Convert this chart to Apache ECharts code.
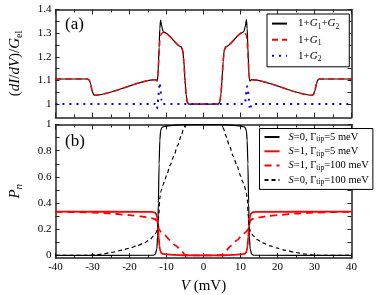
<!DOCTYPE html>
<html><head><meta charset="utf-8">
<script src="https://cdn.jsdelivr.net/npm/echarts@6/dist/echarts.min.js"></script>
<style>html,body{margin:0;padding:0;background:#fff}#c{width:382px;height:295px}</style>
</head><body><div id="c"></div>
<script>
// ---- Panel (a) data ----
const V_G12 = [-40,-31.3,-30.9,-30.5,-30.1,-29.7,-29.4,-13.0,-12.5,-12.3,-12.0,-11.8,-11.6,-11.3,-10.9,-10.6,-6.0,-5.6,-5.3,-5.0,-4.7,-4.4,-4.0,4.0,4.4,4.7,5.0,5.3,5.6,6.0,10.6,10.9,11.3,11.6,11.8,12.0,12.3,12.5,13.0,29.4,29.7,30.1,30.5,30.9,31.3,40];
const G12 = [1.106,1.106,1.102,1.085,1.055,1.040,1.037,1.103,1.097,1.125,1.24,1.32,1.355,1.33,1.306,1.303,1.242,1.226,1.18,1.10,1.04,1.008,1.0,1.0,1.008,1.04,1.10,1.18,1.226,1.242,1.303,1.306,1.33,1.357,1.32,1.24,1.125,1.097,1.103,1.037,1.040,1.055,1.085,1.102,1.106,1.106];
const G1 = [1.106,1.106,1.102,1.085,1.055,1.040,1.037,1.103,1.100,1.12,1.21,1.27,1.29,1.298,1.304,1.303,1.242,1.226,1.18,1.10,1.04,1.008,1.0,1.0,1.008,1.04,1.10,1.18,1.226,1.242,1.303,1.304,1.298,1.29,1.27,1.21,1.12,1.100,1.103,1.037,1.040,1.055,1.085,1.102,1.106,1.106];
const V_G2 = [-40,-13.0,-12.8,-12.6,-12.4,-12.2,-12.0,-11.8,-11.6,-11.4,-11.2,11.2,11.4,11.6,11.8,12.0,12.2,12.4,12.6,12.8,13.0,40];
const G2 = [1,1,0.995,0.98,0.995,1.03,1.07,1.09,1.06,1.02,1.0,1.0,1.02,1.05,1.075,1.07,1.03,0.99,0.975,0.99,1.0,1];
// ---- Panel (b) data ----
const V_S0_5 = [-40,-13.6,-13.0,-12.6,-12.4,-12.2,-12.0,-11.8,-11.6,-11.3,-11.0,-10.0,-8.0,-5.0,0,5.0,8.0,10.0,11.0,11.3,11.6,11.8,12.0,12.2,12.4,12.6,13.0,13.6,40];
const P_S0_5 = [0,0.001,0.01,0.05,0.15,0.4,0.7,0.88,0.95,0.975,0.982,0.988,0.994,0.999,1.0,0.999,0.994,0.988,0.982,0.975,0.95,0.88,0.7,0.4,0.15,0.05,0.01,0.001,0];
const V_S1_5 = [-40,-14.0,-13.2,-12.8,-12.5,-12.3,-12.1,-11.9,-11.7,-11.4,-11.0,-10.0,-8.0,-5.0,0,5.0,8.0,10.0,11.0,11.4,11.7,11.9,12.1,12.3,12.5,12.8,13.2,14.0,40];
const P_S1_5 = [0.334,0.333,0.328,0.318,0.29,0.22,0.14,0.07,0.035,0.018,0.012,0.008,0.004,0.001,0,0.001,0.004,0.008,0.012,0.018,0.035,0.07,0.14,0.22,0.29,0.318,0.328,0.333,0.334];
const V_S1_100 = [-40,-35,-30,-25,-20,-17,-15,-13.8,-13.0,-12.6,-12.3,-12.0,-11.5,-10.5,-9.0,-7.5,-6.0,-5.0,-4.5,0,4.5,5.0,6.0,7.5,9.0,10.5,11.5,12.0,12.3,12.6,13.0,13.8,15,17,20,25,30,35,40];
const P_S1_100 = [0.333,0.331,0.327,0.32,0.308,0.298,0.29,0.283,0.276,0.262,0.23,0.195,0.18,0.155,0.115,0.075,0.035,0.005,0,0,0,0.005,0.035,0.075,0.115,0.155,0.18,0.195,0.23,0.262,0.276,0.283,0.29,0.298,0.308,0.32,0.327,0.331,0.333];
const V_S0_100 = [-40,-31,-29,-27,-25,-22,-20,-18,-16,-14.5,-13.5,-12.8,-12.4,-12.1,-11.8,-11.5,-11.0,-10.5,-10.0,-9.0,-8.0,-7.0,-6.0,-5.4,-4.8,0,4.8,5.4,6.0,7.0,8.0,9.0,10.0,10.5,11.0,11.5,11.8,12.1,12.4,12.8,13.5,14.5,16,18,20,22,25,27,29,31,40];
const P_S0_100 = [0,0,0.004,0.012,0.022,0.04,0.055,0.073,0.095,0.12,0.148,0.175,0.205,0.3,0.44,0.49,0.535,0.57,0.61,0.69,0.76,0.84,0.915,0.97,1.0,1.0,1.0,0.97,0.915,0.84,0.76,0.69,0.61,0.57,0.535,0.49,0.44,0.3,0.205,0.175,0.148,0.12,0.095,0.073,0.055,0.04,0.022,0.012,0.004,0,0];
// ---- ticks ----
const xTicks = [-40,-30,-20,-10,0,10,20,30,40];
const yLabelsA = [1,1.1,1.2,1.3,1.4];
const yTicksA = [1,1.05,1.1,1.15,1.2,1.25,1.3,1.35,1.4];
const yLabelsB = [0,0.2,0.4,0.6,0.8,1];
const yTicksB = [0,0.1,0.2,0.3,0.4,0.5,0.6,0.7,0.8,0.9,1];

const FF = '"Liberation Serif", "DejaVu Serif", serif';
const zip = (xs, ys) => xs.map((x, i) => [x, ys[i]]);
const AX = { onZero: false, lineStyle: { color: '#222', width: 1.5 } };
function xAx(grid, pos, showLabel, name) {
  return {
    type: 'value', gridIndex: grid, position: pos, min: -40, max: 40, interval: 10,
    axisLine: AX, splitLine: { show: false },
    axisTick: { inside: true, length: 5, lineStyle: { color: '#222' } },
    minorTick: { show: true, splitNumber: 2, length: 3, lineStyle: { color: '#222' } },
    axisLabel: { show: showLabel, color: '#000', fontFamily: FF, fontSize: 11, margin: 4 },
    name: name || '', nameLocation: 'middle', nameGap: 21,
    nameTextStyle: { fontFamily: FF, fontSize: 15, color: '#000', rich: { i: { fontFamily: FF, fontSize: 15, fontStyle: 'italic', color: '#000' } } }
  };
}
function yAx(grid, pos, showLabel, min, max, labels, ticks, name, nameRich) {
  return {
    type: 'value', gridIndex: grid, position: pos, min: min, max: max,
    axisLine: AX, splitLine: { show: false },
    axisTick: { inside: true, length: 4, customValues: ticks, lineStyle: { color: '#222' } },
    axisLabel: { show: showLabel, customValues: labels, color: '#000', fontFamily: FF, fontSize: 11, margin: 4, formatter: v => String(+v.toFixed(2)) },
    name: name || '', nameLocation: 'middle', nameGap: 31, nameRotate: 90,
    nameTextStyle: { fontFamily: FF, fontSize: 15, color: '#000', rich: nameRich }
  };
}
const richName = {
  n: { fontFamily: FF, fontSize: 15, color: '#000', lineHeight: 18 },
  i: { fontFamily: FF, fontSize: 15, fontStyle: 'italic', color: '#000', lineHeight: 18 },
  s: { fontFamily: FF, fontSize: 10, color: '#000', verticalAlign: 'bottom', lineHeight: 12 },
  si: { fontFamily: FF, fontSize: 11, fontStyle: 'italic', color: '#000', verticalAlign: 'bottom', lineHeight: 12 }
};
const legRich = {
  i: { fontFamily: FF, fontSize: 11, fontStyle: 'italic', color: '#000', lineHeight: 14 },
  s: { fontFamily: FF, fontSize: 7.5, color: '#000', verticalAlign: 'bottom', lineHeight: 9 },
  n: { fontFamily: FF, fontSize: 11, color: '#000', lineHeight: 14 }
};
const legRichB = {
  i: { fontFamily: FF, fontSize: 10.5, fontStyle: 'italic', color: '#000', lineHeight: 13 },
  s: { fontFamily: FF, fontSize: 7.5, color: '#000', verticalAlign: 'bottom', lineHeight: 8 },
  n: { fontFamily: FF, fontSize: 10.5, color: '#000', lineHeight: 13 }
};
const legNames = {
  'G12': '{n|1+}{i|G}{s|1}{n|+}{i|G}{s|2}',
  'G1': '{n|1+}{i|G}{s|1}',
  'G2': '{n|1+}{i|G}{s|2}',
  'S0_5': '{i|S}{n|=0, Γ}{s|tip}{n|=5 meV}',
  'S1_5': '{i|S}{n|=1, Γ}{s|tip}{n|=5 meV}',
  'S1_100': '{i|S}{n|=1, Γ}{s|tip}{n|=100 meV}',
  'S0_100': '{i|S}{n|=0, Γ}{s|tip}{n|=100 meV}'
};
function ser(name, xa, ya, xi, yi, color, width, type) {
  return { name: name, type: 'line', xAxisIndex: xi, yAxisIndex: yi, data: zip(xa, ya), symbol: 'none',
    smooth: 0.25, smoothMonotone: 'x', silent: true, animation: false,
    lineStyle: { color: color, width: width, type: type }, itemStyle: { color: color } };
}
const chart = echarts.init(document.getElementById('c'), null, { renderer: 'canvas' });
chart.setOption({
  animation: false,
  grid: [
    { left: 49.5, top: 9.5, width: 302, height: 108 },
    { left: 49.5, top: 124.5, width: 302, height: 140 }
  ],
  xAxis: [xAx(0, 'bottom', false), xAx(0, 'top', false), xAx(1, 'bottom', true, '{i|V} (mV)'), xAx(1, 'top', false)],
  yAxis: [
    yAx(0, 'left', true, 0.943, 1.4, yLabelsA, yTicksA, '{n|(}{i|dI}{n|/}{i|dV}{n|)/}{i|G}{s|el}', richName),
    yAx(0, 'right', false, 0.943, 1.4, yLabelsA, yTicksA),
    yAx(1, 'left', true, -0.02, 1, yLabelsB, yTicksB, '{i|P}{si|n}', richName),
    yAx(1, 'right', false, -0.02, 1, yLabelsB, yTicksB)
  ],
  legend: [
    { data: ['G12', 'G1', 'G2'], orient: 'vertical', left: 267, top: 14, width: 80, itemWidth: 15, itemHeight: 14, itemGap: 3.5,
      padding: [4, 10, 4, 4], borderColor: '#000', borderWidth: 1, backgroundColor: '#fff', selectedMode: false,
      itemStyle: { opacity: 0 },
      formatter: n => legNames[n], textStyle: { fontFamily: FF, fontSize: 11, color: '#000', padding: [0, 0, 0, 6], rich: legRich } },
    { data: ['S0_5', 'S1_5', 'S1_100', 'S0_100'], orient: 'vertical', left: 259.5, top: 128.5, itemWidth: 15, itemHeight: 13, itemGap: 2.3,
      padding: [3, 4, 3, 4], borderColor: '#000', borderWidth: 1, backgroundColor: '#fff', selectedMode: false,
      itemStyle: { opacity: 0 },
      formatter: n => legNames[n], textStyle: { fontFamily: FF, fontSize: 10.5, color: '#000', padding: [0, 0, 0, 4], rich: legRichB } }
  ],
  graphic: [
    { type: 'text', left: 65, top: 16, style: { text: '(a)', font: '17px "Liberation Serif"', fill: '#000' } },
    { type: 'text', left: 65, top: 133, style: { text: '(b)', font: '17px "Liberation Serif"', fill: '#000' } }
  ],
  series: [
    ser('G12', V_G12, G12, 0, 0, '#000', 1.2, 'solid'),
    ser('G1', V_G12, G1, 0, 0, '#ff0000', 1.5, [6, 4]),
    ser('G2', V_G2, G2, 0, 0, '#0000ff', 2, [2, 5]),
    ser('S0_5', V_S0_5, P_S0_5, 2, 2, '#000', 1.2, 'solid'),
    ser('S1_5', V_S1_5, P_S1_5, 2, 2, '#ff0000', 1.8, 'solid'),
    ser('S1_100', V_S1_100, P_S1_100, 2, 2, '#ff0000', 1.8, [7, 5]),
    ser('S0_100', V_S0_100, P_S0_100, 2, 2, '#000', 1.2, [4, 3])
  ]
});
</script></body></html>
